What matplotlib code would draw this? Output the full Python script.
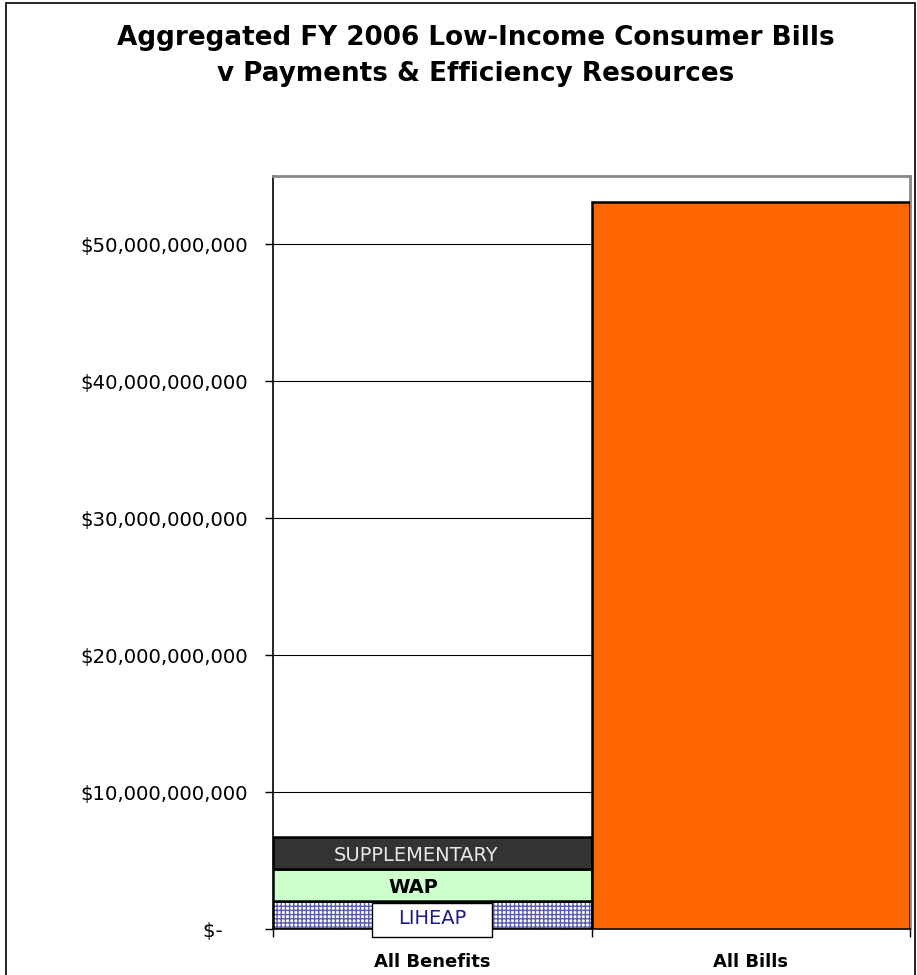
import matplotlib
matplotlib.use("Agg")
import matplotlib.pyplot as plt
from matplotlib.ticker import FuncFormatter, MultipleLocator
from matplotlib.patches import Rectangle
from matplotlib.transforms import blended_transform_factory

# ---- data ----
categories = ["All Benefits", "All Bills"]
liheap = [2.06e9, 0.0]
wap = [2.31e9, 0.0]
supplementary = [2.33e9, 0.0]
all_bills = [0.0, 53.1e9]
segment_labels = ["LIHEAP", "WAP", "SUPPLEMENTARY"]
title_lines = ["Aggregated FY 2006 Low-Income Consumer Bills",
               "v Payments & Efficiency Resources"]

W, H = 917, 975
fig = plt.figure(figsize=(W / 100, H / 100), dpi=100)
fig.patch.set_facecolor("white")

# figure border
fig.add_artist(Rectangle((6 / W, -0.01), (W - 8) / W, 1.0 - 3 / H + 0.01,
                         transform=fig.transFigure, fill=False,
                         edgecolor="black", linewidth=1.2))

ax = fig.add_axes([273 / W, 46 / H, (910 - 273) / W, (929 - 176) / H])
x = list(range(len(categories)))
width = 1.0

# LIHEAP hatched
ax.bar(x, liheap, width=width, color="white", edgecolor="#5a5ab4",
       hatch="++++", linewidth=0, zorder=3)
ax.bar(x, liheap, width=width, fill=False, edgecolor="black",
       linewidth=1.8, zorder=4)
b1 = [l for l in liheap]
ax.bar(x, wap, width=width, bottom=b1, color="#ccffcc", edgecolor="black",
       linewidth=1.8, zorder=4)
b2 = [l + w for l, w in zip(liheap, wap)]
ax.bar(x, supplementary, width=width, bottom=b2, color="#333333",
       edgecolor="black", linewidth=1.8, zorder=4)
ax.bar(x, all_bills, width=width, color="#ff6600", edgecolor="black",
       linewidth=1.8, zorder=4)

# segment labels
trans = blended_transform_factory(ax.transData, ax.transAxes)
ax.add_patch(Rectangle((-0.188, -0.0106), 0.376, 0.0451, transform=trans,
                       facecolor="white", edgecolor="black", linewidth=1.0,
                       zorder=5, clip_on=False))
ax.text(0, 0.8e9, segment_labels[0], ha="center", va="center",
        color="#1a1a8c", fontsize=14, zorder=6)
ax.text(-0.06, liheap[0] + wap[0] / 2 - 0.15e9, segment_labels[1],
        ha="center", va="center", color="black", fontsize=14,
        fontweight="bold", zorder=6)
ax.text(-0.051, b2[0] + supplementary[0] / 2 - 0.15e9, segment_labels[2],
        ha="center", va="center", color="#e8e8e8", fontsize=14, zorder=6)

ax.set_xlim(-0.5, 1.5)
ax.set_ylim(0, 55e9)
ax.yaxis.set_major_locator(MultipleLocator(10e9))
ax.yaxis.set_major_formatter(FuncFormatter(
    lambda v, p: "$-    " if v == 0 else "${:,.0f}".format(v)))
ax.grid(axis="y", color="black", linewidth=0.8, zorder=1)
ax.set_axisbelow(True)

ax.set_xticks([-0.5, 0.5, 1.5])
ax.set_xticklabels([])
ax.set_xticks([0, 1], minor=True)
ax.set_xticklabels(categories, minor=True, fontsize=13, fontweight="bold")
ax.tick_params(axis="x", which="minor", length=0, pad=17)
ax.tick_params(axis="x", which="major", length=6, direction="out", width=1)
ax.tick_params(axis="y", length=6, direction="out", width=1, labelsize=14.2,
               pad=12)

for s in ["left", "bottom"]:
    ax.spines[s].set_color("black")
    ax.spines[s].set_linewidth(1.2)
for s in ["top", "right"]:
    ax.spines[s].set_color("#888888")
    ax.spines[s].set_linewidth(2)

fig.text(476 / W, 1 - 38 / H, title_lines[0], ha="center", va="center",
         fontsize=18.9, fontweight="bold")
fig.text(476 / W, 1 - 74 / H, title_lines[1], ha="center", va="center",
         fontsize=18.9, fontweight="bold")

fig.savefig("out.png", dpi=100)
